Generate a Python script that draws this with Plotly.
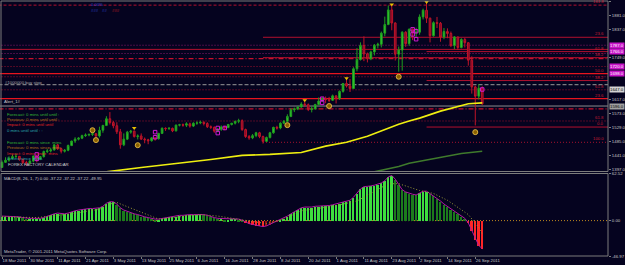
import plotly.graph_objects as go

# ---------------- data ----------------
opens = [1403,1419,1426,1432,1437,1438,1428,1418,1417,1423,1439,1429,1437,1453,1455,1458,1474,1462,1454,1457,
         1472,1486,1492,1495,1503,1505,1507,1509,1502,1520,1535,1556,1544,1534,1515,1474,1492,1514,1517,1500,
         1502,1492,1490,1487,1496,1493,1510,1526,1525,1526,1518,1536,1537,1536,1540,1533,1542,1543,1545,1541,
         1531,1529,1517,1523,1530,1528,1538,1542,1548,1550,1522,1500,1496,1503,1512,1500,1485,1497,1512,1529,
         1527,1542,1548,1563,1584,1587,1593,1602,1600,1585,1587,1601,1612,1620,1616,1614,1628,1620,1642,1667,
         1659,1651,1713,1742,1786,1760,1745,1766,1787,1790,1825,1852,1898,1857,1759,1772,1828,1792,1837,1826,
         1828,1876,1897,1872,1817,1858,1856,1813,1830,1824,1786,1813,1780,1805,1795,1740,1656,1627,1652]
highs = [1425,1435,1438,1444,1447,1439,1432,1424,1428,1440,1443,1439,1456,1461,1465,1476,1477,1465,1461,1475,
         1487,1498,1498,1506,1510,1509,1518,1511,1531,1537,1564,1577,1549,1545,1524,1510,1518,1521,1519,1507,
         1510,1497,1493,1498,1498,1512,1529,1529,1530,1528,1538,1540,1541,1545,1544,1545,1548,1550,1548,1545,
         1535,1532,1527,1535,1534,1540,1543,1550,1556,1554,1525,1505,1508,1515,1515,1503,1500,1515,1531,1534,
         1545,1552,1570,1589,1591,1596,1608,1610,1604,1595,1603,1623,1624,1626,1625,1632,1629,1645,1668,1681,
         1681,1718,1778,1796,1815,1764,1770,1791,1795,1830,1877,1912,1912,1859,1783,1831,1831,1840,1840,1842,
         1884,1902,1921,1874,1862,1876,1860,1841,1840,1830,1816,1814,1809,1810,1795,1752,1660,1665,1658]
lows = [1402,1417,1421,1428,1433,1424,1415,1408,1413,1419,1419,1426,1434,1448,1450,1456,1458,1447,1450,1454,
        1470,1480,1488,1492,1499,1501,1502,1497,1497,1512,1533,1538,1526,1508,1462,1470,1489,1509,1497,1491,
        1490,1479,1476,1484,1487,1491,1508,1518,1521,1514,1516,1532,1531,1530,1528,1530,1537,1539,1535,1527,
        1524,1512,1514,1518,1520,1527,1535,1538,1542,1518,1496,1490,1492,1498,1495,1478,1483,1494,1509,1522,
        1523,1540,1546,1561,1577,1583,1591,1594,1580,1576,1585,1599,1610,1605,1608,1612,1604,1615,1638,1654,
        1640,1650,1705,1739,1737,1733,1740,1755,1777,1780,1815,1850,1834,1739,1704,1707,1782,1785,1803,1813,
        1820,1868,1857,1796,1814,1841,1798,1806,1809,1781,1775,1772,1777,1780,1723,1635,1535,1617,1600]
closes = [1419,1426,1432,1437,1438,1428,1418,1417,1423,1439,1429,1437,1453,1455,1458,1474,1462,1454,1457,1472,
          1486,1492,1495,1503,1505,1507,1509,1502,1520,1535,1556,1544,1534,1515,1474,1492,1514,1517,1500,1502,
          1492,1490,1487,1496,1493,1510,1526,1525,1526,1518,1536,1537,1536,1540,1533,1542,1543,1545,1541,1531,
          1529,1517,1523,1530,1528,1538,1542,1548,1550,1522,1500,1496,1503,1512,1500,1485,1497,1512,1529,1527,
          1542,1548,1563,1584,1587,1593,1602,1600,1585,1587,1601,1612,1620,1616,1614,1628,1620,1642,1667,1659,
          1651,1713,1742,1786,1760,1745,1766,1787,1790,1825,1852,1898,1857,1759,1772,1828,1792,1837,1826,1828,
          1876,1897,1872,1817,1858,1856,1813,1830,1824,1786,1813,1780,1805,1795,1740,1656,1627,1652,1603]
bar_idx = list(range(len(closes)))

macd = [6,6,6,6,5,5,4,3,3,3,3,3,4,6,8,9,10,9,9,10,
        12,13,14,15,16,16,16,16,17,19,23,25,25,22,17,14,12,11,9,8,
        6,5,4,3,2,2,3,4,5,5,6,7,7,8,8,8,8,9,8,7,
        5,4,3,3,2,2,3,3,2,0.5,-2,-4,-5,-6,-7,-8,-7,-5,-3,-1,
        1,3,6,9,12,15,17,18,18,18,19,19,20,20,20,21,22,23,25,26,
        27,31,36,42,45,45,46,47,48,50,53,58,60,55,48,41,38,36,35,34,
        37,39,39,36,33,30,26,22,19,15,12,9,6,3,-3,-13,-25,-33,-37.22]
signal_idx = [0, 10, 20, 28, 31, 33, 45, 57, 62, 69, 76, 81, 86, 95, 102, 111, 114, 120, 124, 128, 131, 134, 137, 138]
signal_val = [5, 4, 9, 15, 22, 24, 2, 8, 6, 1, -4, 2, 13, 19, 26, 49, 49, 40, 36, 27, 17, 8, -9, -18]

ma_fast_idx = [30, 40, 60, 69, 77, 86, 93, 99, 105, 111, 114, 117, 120, 126, 132, 134, 138]
ma_fast_val = [1389, 1403, 1428, 1441, 1444, 1450, 1470, 1482, 1501, 1527, 1539, 1549, 1558, 1580, 1596, 1603, 1606]
ma_slow_idx = [106, 114, 117, 120, 126, 132, 138]
ma_slow_val = [1387, 1406, 1416, 1422, 1435, 1447, 1454]

level_prices = [1913, 1812, 1787, 1774, 1767, 1761, 1748, 1745, 1720, 1698,
                1688, 1676, 1663, 1647, 1619, 1596, 1587, 1549, 1530, 1482]
level_from = [-1, 75, -1, -1, 122, -1, 75, -1, -1, -1,
              -1, 122, -1, -1, -1, -1, -1, -1, 122, 75]
level_tags = ["161.8", "23.6", "", "", "61.8", "", "38.2", "", "", "50.0",
              "", "38.2", "", "61.8", "23.6", "", "", "61.8", "0.0", "100.0"]
level_kind = ["dash", "solid", "dotm", "solid", "solid", "dotm", "solid", "dashdot", "dot", "bright",
              "dot", "solid", "graydash", "dot", "bright", "gray", "dashdot", "dot", "solid", "dot"]

box_prices = [1787, 1766, 1720, 1698, 1647, 1596]
box_kind = ["mag", "mag", "mag", "mag", "light", "gray"]

frac_idx = [38, 87, 99, 112, 122]
frac_price = [1527, 1614, 1683, 1915, 1923]
circ_idx = [26, 27, 39, 82, 94, 114, 136]
circ_price = [1520, 1489, 1473, 1536, 1596, 1688, 1514]
mag_idx = [10, 10, 44, 44, 62, 62, 64, 92, 92, 118, 118, 119, 119, 138]
mag_price = [1444, 1430, 1514, 1498, 1527, 1511, 1527, 1619, 1606, 1837, 1821, 1831, 1806, 1648]

# ticks hidden behind the magenta boxes in the reference are left out
price_ticks = [1925.0, 1881.0, 1837.0, 1749.0, 1617.0, 1573.0, 1529.0, 1485.0, 1441.0, 1397.0]
macd_ticks = [62.52, 0.0, -46.97]
date_tick_idx = [0, 8, 16, 24, 32, 40, 48, 56, 64, 72, 80, 88, 96, 104, 112, 120, 128, 136]
date_tick_labels = ["18 Mar 2011", "30 Mar 2011", "11 Apr 2011", "21 Apr 2011", "3 May 2011", "13 May 2011",
                    "25 May 2011", "6 Jun 2011", "16 Jun 2011", "28 Jun 2011", "8 Jul 2011", "20 Jul 2011",
                    "1 Aug 2011", "11 Aug 2011", "23 Aug 2011", "2 Sep 2011", "14 Sep 2011", "26 Sep 2011"]

# ---------------- styling ----------------
BG = "#05031f"
GRID = "#7c7c7c"
FONT = "Liberation Sans"
FS = 4.3
W, H = 625, 265
PLOT_W, PLOT_H = 608, 256
X_RANGE = [-0.575, 174.14]
Y_RANGE = [1390.3, 1926.0]
M_RANGE = [-46.97, 62.52]


def py(y):
    return (PLOT_H - y) / PLOT_H


def px(x):
    return x / PLOT_W


LINE_STYLES = {
    "solid": dict(color="#b3102e", width=1, dash="solid"),
    "bright": dict(color="#e8141e", width=1.3, dash="solid"),
    "dot": dict(color="#a3122e", width=1, dash="1px,2px"),
    "dotm": dict(color="#8c1a6e", width=1, dash="1px,2px"),
    "dash": dict(color="#b3102e", width=1, dash="3px,2px"),
    "dashdot": dict(color="#c8102c", width=1.2, dash="5px,2px,1px,2px"),
    "gray": dict(color="#8e8e8e", width=1, dash="solid"),
    "graydash": dict(color="#9a9a9a", width=1, dash="4px,2px"),
}
BOX_STYLES = {
    "mag": dict(bg="#c814c8", fg="#ffffff"),
    "light": dict(bg="#d4d4d4", fg="#000000"),
    "gray": dict(bg="#a0a0a0", fg="#000000"),
}

fig = go.Figure()

fig.add_trace(go.Scatter(x=ma_slow_idx, y=ma_slow_val, mode="lines",
                         line=dict(color="#3f7a2c", width=1.6), xaxis="x", yaxis="y", hoverinfo="skip"))
fig.add_trace(go.Scatter(x=ma_fast_idx, y=ma_fast_val, mode="lines",
                         line=dict(color="#eeee10", width=1.6), xaxis="x", yaxis="y", hoverinfo="skip"))

fig.add_trace(go.Candlestick(
    x=bar_idx, open=opens, high=highs, low=lows, close=closes,
    increasing=dict(line=dict(color="#1f9e1f", width=1), fillcolor="#33cc33"),
    decreasing=dict(line=dict(color="#c01428", width=1), fillcolor="#7a0a2a"),
    whiskerwidth=0, xaxis="x", yaxis="y", hoverinfo="skip"))

fig.add_trace(go.Scatter(x=frac_idx, y=frac_price, mode="markers",
                         marker=dict(symbol="triangle-down", size=4, color="#e8c000"),
                         xaxis="x", yaxis="y", hoverinfo="skip"))
fig.add_trace(go.Scatter(x=circ_idx, y=circ_price, mode="markers",
                         marker=dict(symbol="circle", size=5, color="#8a6000",
                                     line=dict(color="#d8b040", width=1)),
                         xaxis="x", yaxis="y", hoverinfo="skip"))
fig.add_trace(go.Scatter(x=mag_idx, y=mag_price, mode="markers",
                         marker=dict(symbol="square-open", size=3.5, color="#d01ad0",
                                     line=dict(width=1)),
                         xaxis="x", yaxis="y", hoverinfo="skip"))

bar_cols = []
for i, v in enumerate(macd):
    prev = macd[i - 1] if i else v
    if v >= 0:
        bar_cols.append("#3ee03e" if v >= prev else "#1c7a1c")
    else:
        bar_cols.append("#ff2626" if v <= prev else "#9a1010")
fig.add_trace(go.Bar(x=bar_idx, y=macd, marker=dict(color=bar_cols, line=dict(width=0)),
                     width=0.55, xaxis="x2", yaxis="y2", hoverinfo="skip"))
fig.add_trace(go.Scatter(x=bar_idx, y=macd, mode="lines", line=dict(color="#b01aa0", width=1),
                         xaxis="x2", yaxis="y2", hoverinfo="skip"))
fig.add_trace(go.Scatter(x=signal_idx, y=signal_val, mode="lines",
                         line=dict(color="#9a9a38", width=1, dash="1px,2px"),
                         xaxis="x2", yaxis="y2", hoverinfo="skip"))

shapes = []
annotations = []
for p, start, kind, tag in zip(level_prices, level_from, level_kind, level_tags):
    shapes.append(dict(type="line", xref="x", yref="y", x0=start, x1=X_RANGE[1] + 1, y0=p, y1=p,
                       line=LINE_STYLES[kind], layer="below"))
    if tag:
        annotations.append(dict(xref="paper", yref="y", x=px(606), y=p, text=tag, showarrow=False,
                                xanchor="right", yanchor="bottom", yshift=-1,
                                font=dict(family=FONT, size=FS, color="#c81c34")))
shapes.append(dict(type="line", xref="paper", yref="y2", x0=0, x1=1, y0=0, y1=0,
                   line=dict(color="#c08a20", width=1, dash="1px,2px"), layer="below"))
shapes.append(dict(type="rect", xref="paper", yref="paper", x0=px(1), x1=1, y0=py(171.5), y1=py(1),
                   line=dict(color=GRID, width=1)))
shapes.append(dict(type="rect", xref="paper", yref="paper", x0=px(1), x1=1, y0=0, y1=py(173.5),
                   line=dict(color=GRID, width=1)))

for p, kind in zip(box_prices, box_kind):
    st = BOX_STYLES[kind]
    annotations.append(dict(xref="paper", yref="y", x=1.0, y=p, text=f"{p:.1f}", showarrow=False,
                            xanchor="left", yanchor="middle", xshift=1, bgcolor=st["bg"], borderpad=0,
                            font=dict(family=FONT, size=FS, color=st["fg"])))

texts = [
    ("0.00%", 89, 4, "#2f44d8"), ("###", 89, 10, "#2f44d8"), ("##", 100, 10, "#2f44d8"),
    ("###", 110, 10, "#d82020"),
    ("#1000000 buy stop", 3, 82, "#a8a8a8"),
    ("Alert_1#", 2, 101, "#c8c8c8"),
    ("Forecast: 0 mins until until :", 5, 114, "#34b834"),
    ("Previous: 0 mins until until :", 5, 119, "#b8741c"),
    ("Impact: 0 mins until until", 5, 124, "#e02424"),
    ("0 mins until until : :", 5, 130, "#2aa8b0"),
    ("Forecast: 0 mins since  mins", 5, 142, "#34b834"),
    ("Previous: 0 mins since  mins", 5, 147, "#b8741c"),
    ("Impact: 0 mins since  mins", 5, 153, "#e02424"),
    ("0 mins since  mins", 5, 158, "#2aa8b0"),
    ("FOREX FACTORY CALENDAR", 6, 164, "#d0d0d0"),
    ("MACD(8, 26, 1, 7) 0.00 -37.22 -37.22 -37.22 -49.95", 2, 178, "#c8c8c8"),
    ("MetaTrader, © 2001-2011 MetaQuotes Software Corp.", 2, 251, "#c8c8c8"),
]
for t, x, y, c in texts:
    annotations.append(dict(xref="paper", yref="paper", x=px(x), y=py(y), text=t, showarrow=False,
                            xanchor="left", yanchor="middle",
                            font=dict(family=FONT, size=FS, color=c)))

axis_common = dict(showgrid=False, zeroline=False, automargin=False)
fig.update_layout(
    width=W, height=H, margin=dict(l=0, r=W - PLOT_W, t=0, b=H - PLOT_H, autoexpand=False),
    paper_bgcolor=BG, plot_bgcolor=BG, showlegend=False, bargap=0,
    font=dict(family=FONT, size=FS, color="#c8c8c8"),
    xaxis=dict(domain=[0, 1], anchor="y", range=X_RANGE, showticklabels=False, ticks="",
               rangeslider=dict(visible=False), **axis_common),
    xaxis2=dict(domain=[0, 1], anchor="y2", matches="x", range=X_RANGE,
                tickvals=date_tick_idx, ticktext=date_tick_labels, ticks="outside", ticklen=2,
                tickcolor=GRID, ticklabelposition="outside right", tickangle=0,
                tickfont=dict(family=FONT, size=FS, color="#c8c8c8"), **axis_common),
    yaxis=dict(domain=[py(171.5), py(1)], anchor="x", side="right", range=Y_RANGE,
               tickvals=price_ticks, ticktext=[f"{v:.1f}" for v in price_ticks],
               ticks="outside", ticklen=2, tickcolor=GRID,
               tickfont=dict(family=FONT, size=FS, color="#c8c8c8"), **axis_common),
    yaxis2=dict(domain=[0, py(173.5)], anchor="x2", side="right", range=M_RANGE,
                tickvals=macd_ticks, ticktext=["62.52", "0.00", "-46.97"],
                ticks="outside", ticklen=2, tickcolor=GRID,
                tickfont=dict(family=FONT, size=FS, color="#c8c8c8"), **axis_common),
    shapes=shapes, annotations=annotations,
)

fig.write_html("out.html")
